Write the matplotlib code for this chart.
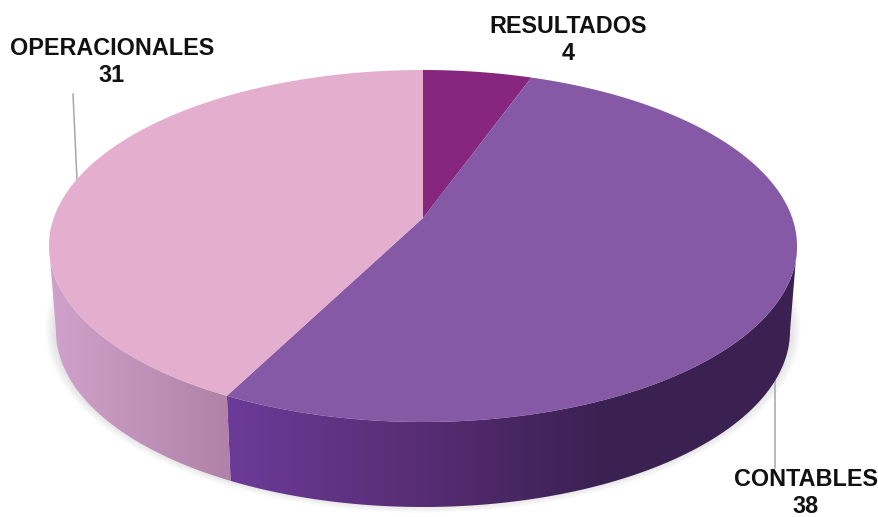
import numpy as np
import matplotlib
matplotlib.use('Agg')
import matplotlib.pyplot as plt
from matplotlib.patches import Polygon

categorias = ['RESULTADOS', 'CONTABLES', 'OPERACIONALES']
valores = [4, 38, 31]
colores = ['#86267f', '#8559a5', '#e4afcf']

# geometria del pastel en pixeles de la figura
cx, cy, rx, ry = 423, 246, 374, 176
cy_base, rx_base = 331, 367
desvio = 0.159  # el vertice queda arriba del centro de la elipse por la perspectiva

plt.rcParams['font.family'] = ['Liberation Sans', 'DejaVu Sans']


def perspectiva(theta):
    X, Y = np.sin(theta), np.cos(theta)
    d = 1 + desvio * Y
    return X * np.sqrt(1 - desvio ** 2) / d, (Y + desvio) / d


def arriba(theta):
    u, v = perspectiva(theta)
    return cx + rx * u, cy - ry * v


def abajo(theta):
    u, v = perspectiva(theta)
    return cx + rx_base * u, cy_base - ry * v


def mezcla(c1, c2, t):
    return (1 - t) * np.array(matplotlib.colors.to_rgb(c1)) + t * np.array(matplotlib.colors.to_rgb(c2))


def color_lado(i, x):
    if i == 2:
        return mezcla('#d0a2cb', '#b082a8', np.clip((x - 50) / 180, 0, 1))
    if x < 430:
        return mezcla('#6c3b98', '#562c72', np.clip((x - 230) / 200, 0, 1))
    return mezcla('#562c72', '#3b2152', np.clip((x - 430) / 170, 0, 1))


fig = plt.figure(figsize=(8.79, 5.17), dpi=100)
ax = fig.add_axes([0, 0, 1, 1])

limites = 2 * np.pi * np.concatenate([[0], np.cumsum(valores)]) / sum(valores)

# sombra suave debajo del pastel
t = np.linspace(0, 2 * np.pi, 300)
for k in range(1, 11):
    ax.add_patch(Polygon(np.column_stack([cx + (rx_base + k * 1.1) * np.cos(t),
                                          cy_base - 2 + (ry + k * 0.8) * np.sin(t)]),
                         fc='black', ec='none', alpha=0.012, zorder=1))

# cara lateral con degradado horizontal recortado a la forma
columnas = np.arange(0, 880)
for i in range(len(valores)):
    angulos = np.linspace(limites[i], limites[i + 1], 600)
    angulos = angulos[np.cos(angulos) <= -desvio]  # solo la parte visible, desde el punto mas ancho
    if len(angulos) == 0:
        continue
    xa, ya = arriba(angulos)
    xb, yb = abajo(angulos)
    contorno = np.column_stack([np.r_[xa, xb[::-1]], np.r_[ya, yb[::-1]]])
    forma = Polygon(contorno, fc='none', ec='none', transform=ax.transData)
    ax.add_patch(forma)
    franja = np.array([[color_lado(i, x) for x in columnas]])
    img = ax.imshow(franja, extent=(0, 880, 517, 0), aspect='auto', zorder=2, interpolation='bilinear')
    img.set_clip_path(forma)

# cara superior
vx, vy = cx, cy - ry * desvio
for i in range(len(valores)):
    angulos = np.linspace(limites[i], limites[i + 1], 200)
    xs, ys = arriba(angulos)
    puntos = np.column_stack([np.r_[vx, xs], np.r_[vy, ys]])
    ax.add_patch(Polygon(puntos, fc=colores[i], ec='none', zorder=3))

# lineas guia
ax.plot([73, 77], [94, 180], color='#a6a6a6', lw=1.1, zorder=2)
ax.plot([775, 775], [368, 468], color='#a6a6a6', lw=1.1, zorder=1.5)

# etiquetas
pos_etiquetas = [(568, 40), (806, 493), (112, 62)]
for nombre, valor, (x, y) in zip(categorias, valores, pos_etiquetas):
    ax.text(x, y, f'{nombre}\n{valor}', ha='center', va='center', fontsize=16.8,
            fontweight='bold', color='#111111', linespacing=1.2, zorder=5)

ax.set_xlim(0, 879)
ax.set_ylim(517, 0)
ax.axis('off')

fig.savefig('out.png', dpi=100)
